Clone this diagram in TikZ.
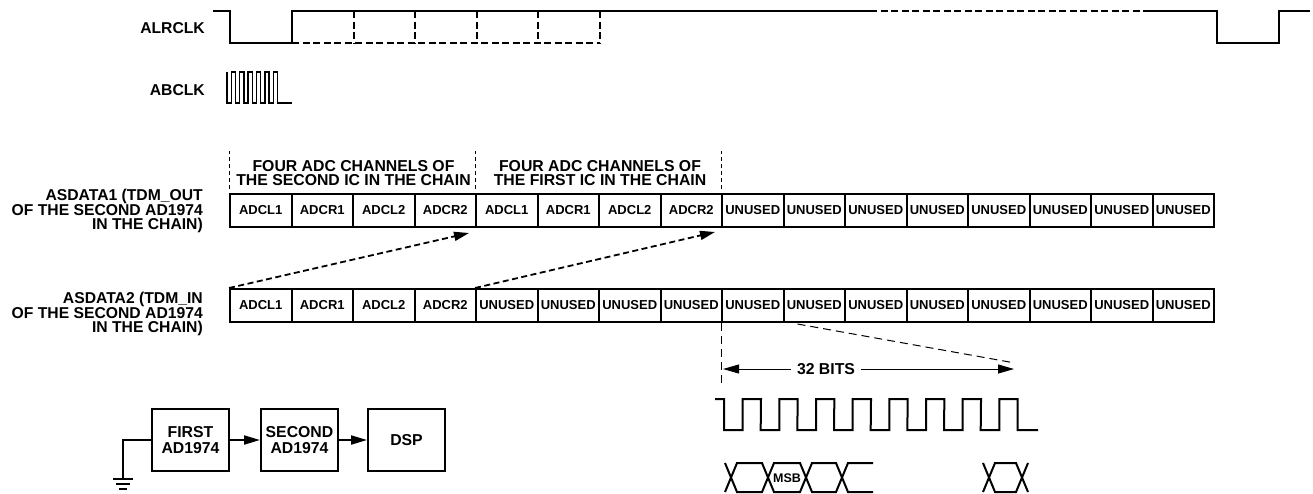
\documentclass[tikz,border=0pt]{standalone}
\usepackage{fontspec}
\setmainfont{Liberation Sans}
\usetikzlibrary{arrows.meta,calc}
\begin{document}
\begin{tikzpicture}[x=1pt,y=-1pt,
  wave/.style={line width=2pt, line join=miter},
  dwave/.style={line width=2pt, dash pattern=on 7pt off 3.5pt},
  sepline/.style={line width=1pt, dash pattern=on 4pt off 3pt},
  thindash/.style={line width=1pt, dash pattern=on 8pt off 5pt},
  lbl/.style={font=\bfseries\fontsize{15.7}{13.8}\selectfont, align=right, inner sep=0pt},
  hdr/.style={font=\bfseries\fontsize{15.8}{14}\selectfont, align=center, inner sep=0pt},
  cell/.style={draw, line width=2pt, minimum width=61.5pt, minimum height=33pt, inner sep=0pt, font=\bfseries\fontsize{13}{15}\selectfont},
  blk/.style={draw, line width=2pt, minimum width=77pt, minimum height=62pt, inner sep=0pt, align=center, font=\bfseries\fontsize{15.8}{16}\selectfont},
  darr/.style={line width=1.8pt, dash pattern=on 6pt off 3.5pt, -{Triangle[length=15pt,width=9pt]}},
  barr/.style={line width=1pt, -{Triangle[length=16pt,width=9pt]}},
  blkarr/.style={line width=2pt, -{Triangle[length=16pt,width=9pt]}},
  bits/.style={font=\bfseries\fontsize{15.8}{16}\selectfont, inner xsep=6pt, inner ysep=0pt},
  msb/.style={font=\bfseries\fontsize{12.5}{14}\selectfont, inner sep=0pt}
]
\useasboundingbox (0,0) rectangle (1313,493);
\fill[white] (0,0) rectangle (1313,493);

% ---------- ALRCLK ----------
\node[lbl, anchor=east] (alr) at (205,28) {ALRCLK};
\draw[wave] (213,11) -- (230,11) -- (230,43) -- (292,43) -- (292,11) -- (870,11);
\draw[dwave] (870,11) -- (1143,11);
\draw[wave] (1143,11) -- (1217,11) -- (1217,43) -- (1279,43) -- (1279,11) -- (1310,11);
\draw[dwave] (292,43) -- (600,43);
\foreach \x in {353.5,415,476.5,538,599.5} \draw[dwave] (\x,11) -- (\x,43);

% ---------- ABCLK ----------
\node[lbl, anchor=east] (abc) at (205,90) {ABCLK};
\draw[wave, line width=1.4pt] (227,72)
  \foreach \k in {0,...,5} { -- ({227+8.4*\k},103) -- ({231.2+8.4*\k},103) -- ({231.2+8.4*\k},72) -- ({235.4+8.4*\k},72) }
  -- (277.4,72) -- (277.4,103) -- (292,103);

% ---------- rows ----------
\foreach \i/\t in {1/ADCL1,2/ADCR1,3/ADCL2,4/ADCR2,5/ADCL1,6/ADCR1,7/ADCL2,8/ADCR2,
                   9/UNUSED,10/UNUSED,11/UNUSED,12/UNUSED,13/UNUSED,14/UNUSED,15/UNUSED,16/UNUSED}
  \node[cell] (ra\i) at ({230+61.5*(\i-0.5)},210.5) {\t};
\foreach \i/\t in {1/ADCL1,2/ADCR1,3/ADCL2,4/ADCR2,5/UNUSED,6/UNUSED,7/UNUSED,8/UNUSED,
                   9/UNUSED,10/UNUSED,11/UNUSED,12/UNUSED,13/UNUSED,14/UNUSED,15/UNUSED,16/UNUSED}
  \node[cell] (rb\i) at ({230+61.5*(\i-0.5)},305.5) {\t};

\node[lbl, anchor=east] (l1) at (203,211) {ASDATA1 (TDM\_OUT\\OF THE SECOND AD1974\\IN THE CHAIN)};
\node[lbl, anchor=east] (l2) at (203,313.5) {ASDATA2 (TDM\_IN\\OF THE SECOND AD1974\\IN THE CHAIN)};

% headers
\node[hdr] (h1) at (353.5,173) {FOUR ADC CHANNELS OF\\THE SECOND IC IN THE CHAIN};
\node[hdr] (h2) at (600,173) {FOUR ADC CHANNELS OF\\THE FIRST IC IN THE CHAIN};
\draw[sepline] ($(ra1.north west)+(0,-4)$) -- ++(0,-38);
\draw[sepline] ($(ra5.north west)+(0,-4)$) -- ++(0,-38);
\draw[sepline] ($(ra9.north west)+(0,-4)$) -- ++(0,-38);

% dashed arrows
\draw[darr] (rb1.north west) -- ($(ra4.south east)+(-8,5)$);
\draw[darr] (rb5.north west) -- ($(ra8.south east)+(-8,4)$);

% ---------- 32 bits ----------
\coordinate (bitsL) at (723,369);
\coordinate (bitsR) at (1014,369);
\node[bits] (bits) at (826,369) {32 BITS};
\draw[barr] (bits.west) -- (bitsL);
\draw[barr] (bits.east) -- (bitsR);
\draw[thindash] (rb9.south west) -- ++(0,61);
\draw[thindash] ($(rb10.south west)+(15,1)$) -- ($(bitsR)+(1,-6)$);

% clock
\draw[wave] (715,399) -- (724,399)
  \foreach \k in {0,...,7} { -- ({724+36.67*\k},430) -- ({742.67+36.67*\k},430) -- ({742.67+36.67*\k},399) -- ({761+36.67*\k},399) }
  -- (1017.7,430) -- (1038,430);

% data bus
\draw[wave] (725,463) -- (737,492) -- (762,492) -- (774,463) -- (800,463) -- (812,492) -- (836,492) -- (848,463) -- (873,463);
\draw[wave] (725,492) -- (737,463) -- (762,463) -- (774,492) -- (800,492) -- (812,463) -- (836,463) -- (848,492) -- (873,492);
\draw[wave] (983,463) -- (995,492) -- (1016,492) -- (1028,463);
\draw[wave] (983,492) -- (995,463) -- (1016,463) -- (1028,492);
\node[msb] (msbt) at (787,478) {MSB};

% ---------- block diagram ----------
\node[blk] (first) at (190.5,440) {FIRST\\AD1974};
\node[blk] (second) at (299.5,440) {SECOND\\AD1974};
\node[blk] (dsp) at (406.5,440) {DSP};
\draw[blkarr] (first) -- (second);
\draw[blkarr] (second) -- (dsp);
\coordinate (gnd) at (123,479);
\draw[wave] (first.west) -| (gnd);
\draw[wave] ($(gnd)+(-10,0)$) -- ++(20,0);
\draw[wave] ($(gnd)+(-7,5)$) -- ++(14,0);
\draw[wave] ($(gnd)+(-4,10)$) -- ++(8,0);
\end{tikzpicture}
\end{document}
